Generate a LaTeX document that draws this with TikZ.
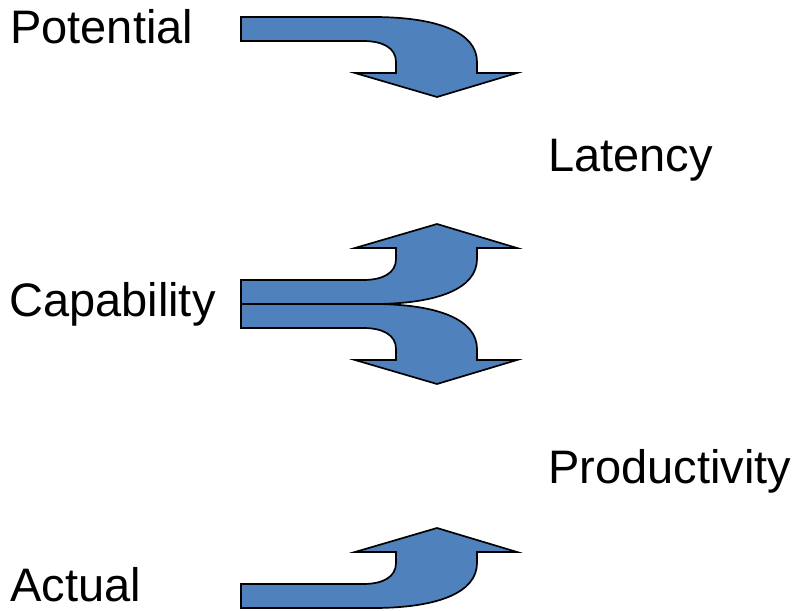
\documentclass[tikz,border=0pt]{standalone}
\usepackage{fontspec}
\setmainfont{Liberation Sans}
\definecolor{flowblue}{HTML}{4F81BD}
\tikzset{
  label text/.style={anchor=base west, inner sep=0pt, font=\fontsize{47}{56}\selectfont},
  flow/.style={fill=flowblue, draw=black, line width=1.7pt, line join=miter},
  % bent arrow, origin at the outer corner of the shaft
  bentdown/.pic={
    \draw[flow] (0,0) -- (132,0) .. controls (198,0) and (236,16) .. (236,45)
      -- (236,56) -- (276,56) -- (196,80) -- (114,56) -- (155,56) -- (155,45)
      .. controls (155,31) and (142,24) .. (122,24) -- (0,24) -- cycle;
  }
}
\begin{document}
\begin{tikzpicture}[x=1pt, y=-1pt]
    \useasboundingbox (0,0) rectangle (799,610);
    % Labels
    \node[label text] (potential) at (10,44) {Potential};
    \node[label text] (latency) at (548,171) {Latency};
    \node[label text] (capability) at (9,316) {Capability};
    \node[label text] (productivity) at (548,483) {Productivity};
    \node[label text] (actual) at (10,601) {Actual};

    % Arrows
    \pic at (241,17) {bentdown};
    \pic[yscale=-1] at (241,304) {bentdown};
    \pic at (241,304) {bentdown};
    \pic[yscale=-1] at (241,608) {bentdown};
\end{tikzpicture}
\end{document}
